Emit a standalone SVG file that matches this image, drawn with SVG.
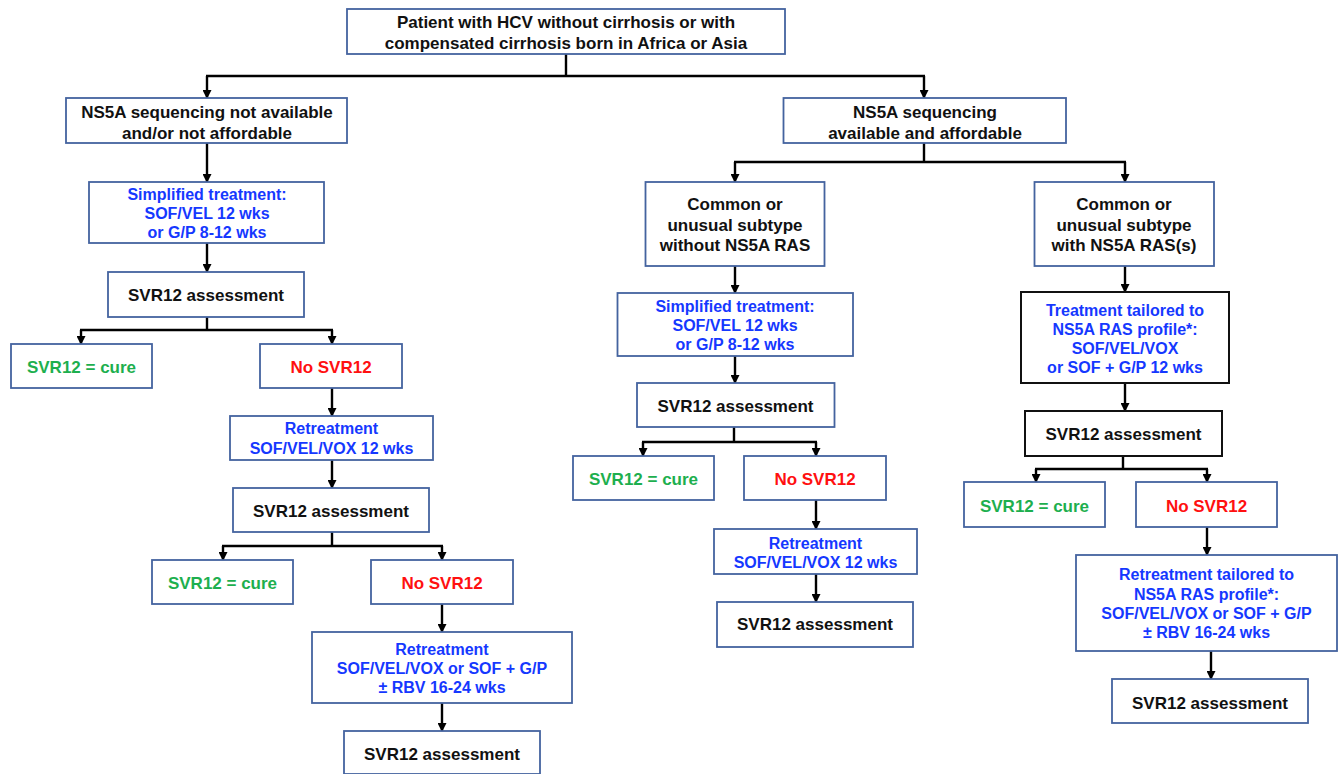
<svg xmlns="http://www.w3.org/2000/svg" width="1339" height="774" viewBox="0 0 1339 774">
<style>
.b{fill:#fff;stroke:#44639F;stroke-width:1.8}
.k{fill:#fff;stroke:#111;stroke-width:2}
text{font-family:"Liberation Sans",Arial,sans-serif;font-weight:bold;text-anchor:middle}
.t{font-size:17px;fill:#111}
.u{font-size:16px;fill:#1538FF}
.g{font-size:17px;fill:#1DAF4E}
.r{font-size:17px;fill:#FF1010}
.c path{fill:none;stroke:#000;stroke-width:2.4}
.c path.a{marker-end:url(#ah)}
</style>
<defs>
<marker id="ah" markerUnits="userSpaceOnUse" markerWidth="9" markerHeight="9" refX="8" refY="4.5" orient="auto">
<path d="M0,0 L9,4.5 L0,9 z" fill="#000"/>
</marker>
</defs>
<rect width="1339" height="774" fill="#fff"/>
<g id="connectors" class="c">
<path d="M566,54 V76 M206,76 H925"/>
<path class="a" d="M207,76 V98"/>
<path class="a" d="M924,76 V98"/>
<path class="a" d="M207,143 V182"/>
<path class="a" d="M207,243 V272"/>
<path d="M207,317 V330 M80,330 H333"/>
<path class="a" d="M81,330 V344"/>
<path class="a" d="M332,330 V344"/>
<path class="a" d="M332,388 V416"/>
<path class="a" d="M332,460 V488"/>
<path d="M332,532 V546 M222,546 H443"/>
<path class="a" d="M223,546 V560"/>
<path class="a" d="M442,546 V560"/>
<path class="a" d="M442,604 V632"/>
<path class="a" d="M442,703 V731"/>
<path d="M924,143 V162 M734,162 H1126"/>
<path class="a" d="M735,162 V182"/>
<path class="a" d="M1125,162 V182"/>
<path class="a" d="M735,266 V293"/>
<path class="a" d="M735,356 V383"/>
<path d="M734,427 V442 M642,442 H817"/>
<path class="a" d="M643,442 V456"/>
<path class="a" d="M816,442 V456"/>
<path class="a" d="M816,500 V529"/>
<path class="a" d="M816,574 V602"/>
<path class="a" d="M1125,266 V292"/>
<path class="a" d="M1125,383 V411"/>
<path d="M1123,456 V469 M1035,469 H1208"/>
<path class="a" d="M1036,469 V482"/>
<path class="a" d="M1207,469 V482"/>
<path class="a" d="M1207,527 V555"/>
<path class="a" d="M1211,651 V679"/>
</g>
<g id="n-root"><rect class="b" x="347" y="9" width="438" height="45"/>
<text class="t" x="566" y="28">Patient with HCV without cirrhosis or with</text>
<text class="t" x="566" y="49">compensated cirrhosis born in Africa or Asia</text></g>
<g id="n-notavail"><rect class="b" x="66" y="98" width="281" height="45"/>
<text class="t" x="207" y="118">NS5A sequencing not available</text>
<text class="t" x="207" y="139">and/or not affordable</text></g>
<g id="n-simp1"><rect class="b" x="89" y="182" width="235" height="61"/>
<text class="u" x="207" y="200">Simplified treatment:</text>
<text class="u" x="207" y="219">SOF/VEL 12 wks</text>
<text class="u" x="207" y="238">or G/P 8-12 wks</text></g>
<g id="n-svr1"><rect class="b" x="108" y="272" width="196" height="45"/>
<text class="t" x="206" y="301">SVR12 assessment</text></g>
<g id="n-cure1"><rect class="b" x="11" y="344" width="141" height="44"/>
<text class="g" x="81.5" y="373">SVR12 = cure</text></g>
<g id="n-no1"><rect class="b" x="260" y="344" width="142" height="44"/>
<text class="r" x="331" y="373">No SVR12</text></g>
<g id="n-ret1"><rect class="b" x="230" y="416" width="203" height="44"/>
<text class="u" x="331.5" y="434">Retreatment</text>
<text class="u" x="331.5" y="454">SOF/VEL/VOX 12 wks</text></g>
<g id="n-svr2"><rect class="b" x="233" y="488" width="196" height="44"/>
<text class="t" x="331" y="517">SVR12 assessment</text></g>
<g id="n-cure2"><rect class="b" x="152" y="560" width="141" height="44"/>
<text class="g" x="222.5" y="589">SVR12 = cure</text></g>
<g id="n-no2"><rect class="b" x="371" y="560" width="142" height="44"/>
<text class="r" x="442" y="589">No SVR12</text></g>
<g id="n-ret2"><rect class="b" x="312" y="632" width="260" height="71"/>
<text class="u" x="442" y="655">Retreatment</text>
<text class="u" x="442" y="674">SOF/VEL/VOX or SOF + G/P</text>
<text class="u" x="442" y="693">± RBV 16-24 wks</text></g>
<g id="n-svr3"><rect class="b" x="344" y="731" width="196" height="43"/>
<text class="t" x="442" y="760">SVR12 assessment</text></g>
<g id="n-avail"><rect class="b" x="783.5" y="98" width="282.5" height="45"/>
<text class="t" x="925" y="118">NS5A sequencing</text>
<text class="t" x="925" y="139">available and affordable</text></g>
<g id="n-without"><rect class="b" x="645.5" y="182" width="179" height="84"/>
<text class="t" x="735" y="210">Common or</text>
<text class="t" x="735" y="231">unusual subtype</text>
<text class="t" x="735" y="251">without NS5A RAS</text></g>
<g id="n-with"><rect class="b" x="1034.5" y="182" width="179.5" height="84"/>
<text class="t" x="1124" y="210">Common or</text>
<text class="t" x="1124" y="231">unusual subtype</text>
<text class="t" x="1124" y="251">with NS5A RAS(s)</text></g>
<g id="n-simp2"><rect class="b" x="617.5" y="293" width="235.5" height="63"/>
<text class="u" x="735" y="312">Simplified treatment:</text>
<text class="u" x="735" y="331">SOF/VEL 12 wks</text>
<text class="u" x="735" y="350">or G/P 8-12 wks</text></g>
<g id="n-svr4"><rect class="b" x="637" y="383" width="197.5" height="44"/>
<text class="t" x="735.5" y="412">SVR12 assessment</text></g>
<g id="n-cure3"><rect class="b" x="573" y="456" width="141" height="44"/>
<text class="g" x="643.5" y="485">SVR12 = cure</text></g>
<g id="n-no3"><rect class="b" x="744" y="456" width="142" height="44"/>
<text class="r" x="815" y="485">No SVR12</text></g>
<g id="n-ret3"><rect class="b" x="714" y="529" width="203" height="45"/>
<text class="u" x="815.5" y="549">Retreatment</text>
<text class="u" x="815.5" y="568">SOF/VEL/VOX 12 wks</text></g>
<g id="n-svr5"><rect class="b" x="717" y="602" width="196" height="45"/>
<text class="t" x="815" y="630">SVR12 assessment</text></g>
<g id="n-tail"><rect class="k" x="1021" y="292" width="208" height="91"/>
<text class="u" x="1125" y="316">Treatment tailored to</text>
<text class="u" x="1125" y="335">NS5A RAS profile*:</text>
<text class="u" x="1125" y="354">SOF/VEL/VOX</text>
<text class="u" x="1125" y="373">or SOF + G/P 12 wks</text></g>
<g id="n-svr6"><rect class="k" x="1025" y="411" width="197" height="45"/>
<text class="t" x="1123.5" y="440">SVR12 assessment</text></g>
<g id="n-cure4"><rect class="b" x="964" y="482" width="141" height="45"/>
<text class="g" x="1034.5" y="512">SVR12 = cure</text></g>
<g id="n-no4"><rect class="b" x="1136" y="482" width="141" height="45"/>
<text class="r" x="1206.5" y="512">No SVR12</text></g>
<g id="n-ret4"><rect class="b" x="1076" y="555" width="261" height="96"/>
<text class="u" x="1206.5" y="580">Retreatment tailored to</text>
<text class="u" x="1206.5" y="600">NS5A RAS profile*:</text>
<text class="u" x="1206.5" y="619">SOF/VEL/VOX or SOF + G/P</text>
<text class="u" x="1206.5" y="638">± RBV 16-24 wks</text></g>
<g id="n-svr7"><rect class="b" x="1112" y="679" width="196" height="44"/>
<text class="t" x="1210" y="709">SVR12 assessment</text></g>
</svg>
